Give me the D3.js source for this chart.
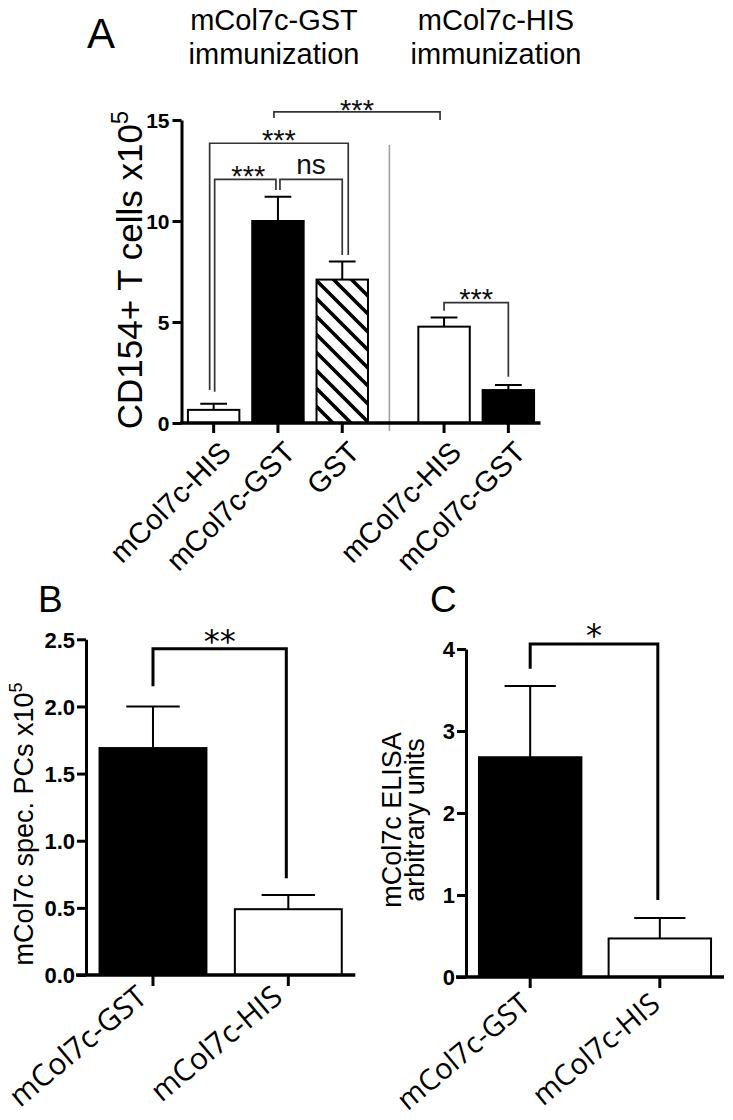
<!DOCTYPE html>
<html><head><meta charset="utf-8">
<script src="https://cdn.jsdelivr.net/npm/d3@7"></script>
<style>body{margin:0;background:#fff} svg{display:block}</style>
</head><body>
<svg id="c" width="733" height="1120"></svg>
<script>
// ---------------- DATA ----------------
// Panel A
const categoriesA = ["mCol7c-HIS", "mCol7c-GST", "GST", "mCol7c-HIS", "mCol7c-GST"];
const groupOfA = [0, 0, 0, 1, 1];
const valuesA = [0.65, 10.0, 7.1, 4.77, 1.63];
const errorsA = [0.3, 1.2, 0.9, 0.45, 0.25];
const groupTitlesA = [["mCol7c-GST", "immunization"], ["mCol7c-HIS", "immunization"]];
const ticksA = [0, 5, 10, 15];
// significance brackets: bar index pair, bracket level and leg ends (data units), label
const bracketFromA = [0, 1, 0, 1, 3];
const bracketToA = [1, 2, 2, 3, 4];
const bracketLevelA = [12.06, 12.06, 13.85, 15.4, 5.96];
const bracketEndFromA = [1.55, 11.53, 1.63, 15.1, 5.56];
const bracketEndToA = [11.53, 8.32, 8.32, 15.0, 2.29];
const bracketLabelA = ["***", "ns", "***", "***", "***"];

// Panel B
const categoriesB = ["mCol7c-GST", "mCol7c-HIS"];
const valuesB = [1.69, 0.49];
const errorsB = [0.31, 0.105];
const ticksB = [0, 0.5, 1.0, 1.5, 2.0, 2.5];
const bracketB = {level: 2.43, endFrom: 2.15, endTo: 0.72, label: "**"};

// Panel C
const categoriesC = ["mCol7c-GST", "mCol7c-HIS"];
const valuesC = [2.68, 0.47];
const errorsC = [0.87, 0.25];
const ticksC = [0, 1, 2, 3, 4];
const bracketC = {level: 4.06, endFrom: 3.76, endTo: 0.94, label: "*"};

// ---------------- DRAW ----------------
const svg = d3.select("#c");
const ARIAL = "'Liberation Sans', Arial, sans-serif";
const LABELFONT = "'Open Sans', 'Noto Sans', sans-serif";

const defs = svg.append("defs");
const pat = defs.append("pattern").attr("id", "hatch")
  .attr("patternUnits", "userSpaceOnUse").attr("width", 18).attr("height", 18);
pat.append("rect").attr("width", 18).attr("height", 18).attr("fill", "#fff");
pat.append("path").attr("d", "M-4.5,-4.5L22.5,22.5M-4.5,13.5L4.5,22.5M13.5,-4.5L22.5,4.5")
  .attr("stroke", "#000").attr("stroke-width", 3.6);

// ===== Panel A =====
const yA = d3.scaleLinear().domain([0, 15]).range([423, 120]);
const bandA = [
  d3.scaleBand().domain([0, 1, 2]).range([181.5, 374.4]).paddingInner(0.2).paddingOuter(0.1),
  d3.scaleBand().domain([3, 4]).range([411.9, 540.5]).paddingInner(0.2).paddingOuter(0.1)
];
const xA = i => bandA[groupOfA[i]](i);
const cxA = i => xA(i) + bandA[groupOfA[i]].bandwidth() / 2;
const bwA = bandA[0].bandwidth();
const fillA = d3.scaleOrdinal().domain([0, 1, 2, 3, 4]).range(["#fff", "#000", "url(#hatch)", "#fff", "#000"]);

const gA = svg.append("g");
gA.append("text").text("A").attr("x", 87).attr("y", 48)
  .attr("font-family", ARIAL).attr("font-size", 42);

// group titles
const titleCx = [274, 496];
groupTitlesA.forEach((lines, gi) => {
  lines.forEach((t, li) => {
    gA.append("text").text(t).attr("x", titleCx[gi]).attr("y", 30 + li * 34)
      .attr("text-anchor", "middle").attr("font-family", ARIAL).attr("font-size", 29);
  });
});

// y label
gA.append("text").attr("transform", "translate(142,270) rotate(-90)")
  .attr("text-anchor", "middle").attr("font-family", ARIAL).attr("font-size", 35)
  .call(t => {
    t.append("tspan").text("CD154+ T cells x10");
    t.append("tspan").text("5").attr("font-size", 24).attr("dy", -14);
  });

// divider
const divX = bandA[0].range()[1] + 15;
gA.append("line").attr("x1", divX).attr("x2", divX).attr("y1", 145).attr("y2", 431)
  .attr("stroke", "#a0a0a0").attr("stroke-width", 1.6);

// bars
const idxA = d3.range(categoriesA.length);
gA.selectAll("rect.bar").data(idxA).join("rect").attr("class", "bar")
  .attr("x", i => xA(i)).attr("width", bwA)
  .attr("y", i => yA(valuesA[i])).attr("height", i => yA(0) - yA(valuesA[i]))
  .attr("fill", i => fillA(i)).attr("stroke", "#000").attr("stroke-width", 2);
// error bars
gA.selectAll("path.err").data(idxA).join("path").attr("class", "err")
  .attr("d", i => {
    const cx = cxA(i), y0 = yA(valuesA[i]), y1 = yA(valuesA[i] + errorsA[i]), w = bwA * 0.26;
    return `M${cx},${y0}V${y1}M${cx - w},${y1}H${cx + w}`;
  })
  .attr("fill", "none").attr("stroke", "#000").attr("stroke-width", 2);

// axes
const yAxisA = d3.axisLeft(yA).tickValues(ticksA).tickSize(9).tickSizeOuter(0).tickPadding(3);
const gyA = gA.append("g").attr("transform", "translate(181.5,0)").call(yAxisA);
gyA.select(".domain").attr("stroke-width", 3);
gyA.selectAll(".tick line").attr("stroke-width", 3);
gyA.selectAll(".tick text").attr("font-family", ARIAL).attr("font-size", 21).attr("font-weight", "bold").attr("dy", "0.36em");

gA.append("line").attr("x1", 180).attr("x2", 540.5).attr("y1", yA(0)).attr("y2", yA(0))
  .attr("stroke", "#000").attr("stroke-width", 3.5);
bandA.forEach(sc => {
  const ax = d3.axisBottom(sc).tickSize(10).tickSizeOuter(0).tickFormat(() => "");
  const g = gA.append("g").attr("transform", `translate(0,${yA(0)})`).call(ax);
  g.select(".domain").remove();
  g.selectAll(".tick line").attr("stroke-width", 3);
});
// x labels
gA.selectAll("text.xl").data(idxA).join("text").attr("class", "xl")
  .text(i => categoriesA[i])
  .attr("transform", i => `translate(${cxA(i) + 19},${yA(0) + 31}) rotate(-45)`)
  .attr("text-anchor", "end").attr("font-family", ARIAL).attr("font-size", 29);

// brackets
const legOffFrom = [1, 2, -4, -4, 0];
const legOffTo = [-2, 0, 6, -4, 0];
const labelDy = [9, 5, 9, 8, 10];
idxA.forEach(k => {
  const xa = cxA(bracketFromA[k]) + legOffFrom[k], xb = cxA(bracketToA[k]) + legOffTo[k];
  const yl = yA(bracketLevelA[k]);
  gA.append("path")
    .attr("d", `M${xa},${yA(bracketEndFromA[k])}V${yl}H${xb}V${yA(bracketEndToA[k])}`)
    .attr("fill", "none").attr("stroke", "#333").attr("stroke-width", 1.7);
  const isStar = bracketLabelA[k] !== "ns";
  gA.append("text").text(bracketLabelA[k])
    .attr("x", (xa + xb) / 2 + (k === 0 ? 3 : 0)).attr("y", isStar ? yl - labelDy[k] + 16 : yl - labelDy[k])
    .attr("text-anchor", "middle").attr("font-family", ARIAL).attr("font-size", isStar ? 29 : 28)
    .attr("fill", "#111");
});

// ===== Panels B & C =====
function panel(opts) {
  const g = svg.append("g");
  const y = d3.scaleLinear().domain(opts.domain).range(opts.yRange);
  const x = d3.scaleBand().domain(opts.cats).range(opts.xRange).paddingInner(0.21).paddingOuter(0.1);
  const bw = x.bandwidth();
  const fill = d3.scaleOrdinal().domain(opts.cats).range(["#000", "#fff"]);
  g.append("text").text(opts.letter).attr("x", opts.letterX).attr("y", 612)
    .attr("font-family", ARIAL).attr("font-size", 37);
  // bars
  g.selectAll("rect").data(opts.cats).join("rect")
    .attr("x", d => x(d)).attr("width", bw)
    .attr("y", (d, i) => y(opts.values[i])).attr("height", (d, i) => y(0) - y(opts.values[i]))
    .attr("fill", d => fill(d)).attr("stroke", "#000").attr("stroke-width", 2);
  g.selectAll("path.err").data(opts.cats).join("path").attr("class", "err")
    .attr("d", (d, i) => {
      const cx = x(d) + bw / 2, y0 = y(opts.values[i]), y1 = y(opts.values[i] + opts.errors[i]), w = bw * 0.25;
      return `M${cx},${y0}V${y1}M${cx - w},${y1}H${cx + w}`;
    })
    .attr("fill", "none").attr("stroke", "#000").attr("stroke-width", 2);
  // y axis
  const ax = d3.axisLeft(y).tickValues(opts.ticks).tickSize(9).tickSizeOuter(0).tickPadding(2)
    .tickFormat(opts.fmt);
  const gy = g.append("g").attr("transform", `translate(${opts.xRange[0]},0)`).call(ax);
  gy.select(".domain").attr("stroke-width", 3);
  gy.selectAll(".tick line").attr("stroke-width", 3);
  gy.selectAll(".tick text").attr("font-family", ARIAL).attr("font-size", 22).attr("font-weight", "bold").attr("dy", "0.36em");
  // x axis
  g.append("line").attr("x1", opts.xRange[0] - 10).attr("x2", opts.xRange[1]).attr("y1", y(0)).attr("y2", y(0))
    .attr("stroke", "#000").attr("stroke-width", 3.5);
  const gx = g.append("g").attr("transform", `translate(0,${y(0)})`)
    .call(d3.axisBottom(x).tickSize(11).tickSizeOuter(0).tickFormat(() => ""));
  gx.select(".domain").remove();
  gx.selectAll(".tick line").attr("stroke-width", 3);
  g.selectAll("text.xl").data(opts.cats).join("text").attr("class", "xl").text(d => d)
    .attr("transform", d => `translate(${x(d) + bw / 2 + opts.lblDx},${y(0) + opts.lblDy}) rotate(-40)`)
    .attr("text-anchor", "end").attr("font-family", LABELFONT).attr("font-size", opts.lblSize);
  // y label
  const yl = g.append("text").attr("transform", `translate(${opts.ylabX},${opts.ylabY}) rotate(-90)`)
    .attr("text-anchor", "middle").attr("font-family", ARIAL).attr("font-size", opts.ylabSize);
  opts.ylab(yl);
  // bracket
  const b = opts.bracket;
  const xa = x(opts.cats[0]) + bw / 2, xb = x(opts.cats[1]) + bw / 2 - 2;
  g.append("path").attr("d", `M${xa},${y(b.endFrom)}V${y(b.level)}H${xb}V${y(b.endTo)}`)
    .attr("fill", "none").attr("stroke", "#000").attr("stroke-width", 3);
  g.append("text").text(b.label).attr("x", (xa + xb) / 2).attr("y", y(b.level) + opts.starDy)
    .attr("text-anchor", "middle").attr("font-family", "'DejaVu Sans', sans-serif")
    .attr("font-size", opts.starSize);
}

panel({
  letter: "B", letterX: 38, cats: categoriesB, values: valuesB, errors: errorsB, ticks: ticksB,
  domain: [0, 2.5], yRange: [975, 639.3], xRange: [86, 355.3], fmt: d3.format(".1f"),
  lblDx: -4, lblDy: 25, lblSize: 30, bracket: bracketB, starDy: 3, starSize: 32,
  ylabX: 33, ylabY: 824, ylabSize: 27,
  ylab: t => { t.append("tspan").text("mCol7c spec. PCs x10"); t.append("tspan").text("5").attr("font-size", 18).attr("dy", -11); }
});
panel({
  letter: "C", letterX: 430, cats: categoriesC, values: valuesC, errors: errorsC, ticks: ticksC,
  domain: [0, 4], yRange: [977, 649], xRange: [466, 724], fmt: d3.format("d"),
  lblDx: 2, lblDy: 30, lblSize: 29, bracket: bracketC, starDy: 2, starSize: 32,
  ylabX: 412, ylabY: 820, ylabSize: 27,
  ylab: t => {
    t.append("tspan").text("mCol7c ELISA").attr("x", 0).attr("dy", "-0.42em");
    t.append("tspan").text("arbitrary units").attr("x", 0).attr("dy", "0.85em");
  }
});
</script>
</body></html>
